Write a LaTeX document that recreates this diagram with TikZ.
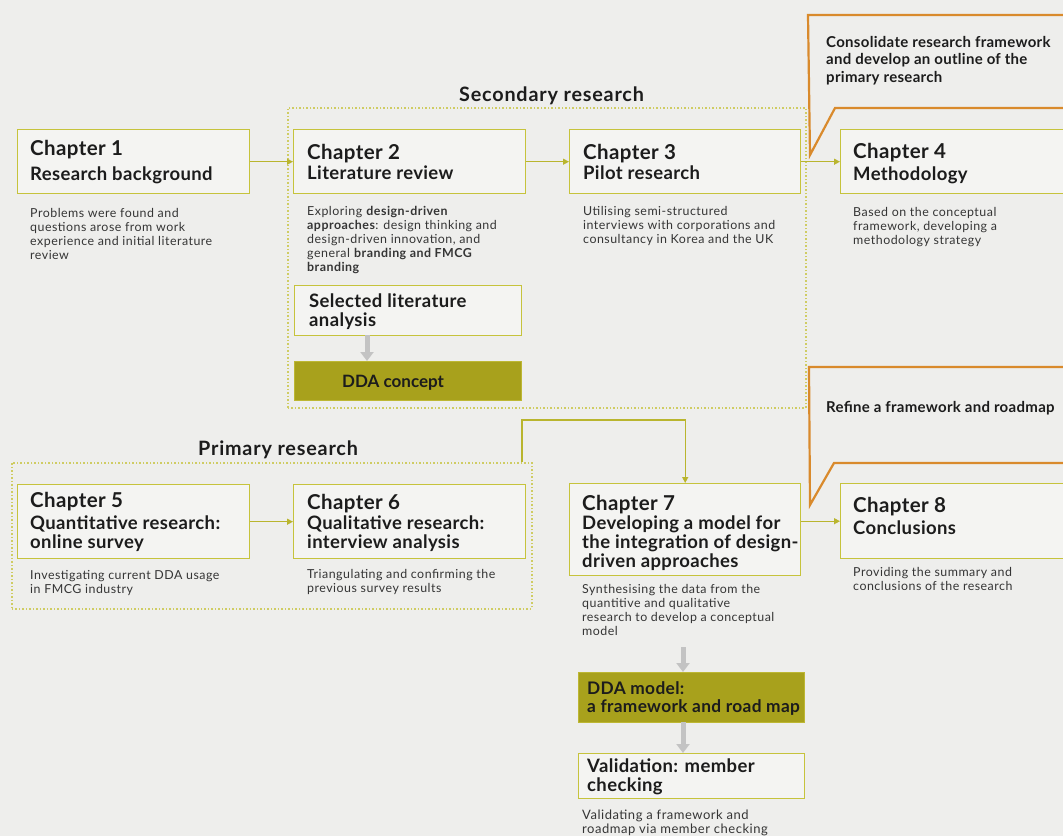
\documentclass[tikz,border=0pt]{standalone}
\usepackage{fontspec}
\setmainfont{Lato}
\newfontfamily\dgDescFam[LetterSpace=4]{Lato}
\newfontfamily\dgHeadFam[LetterSpace=2]{Lato}
\newfontfamily\dgWideFam[LetterSpace=4]{Lato}
\usetikzlibrary{arrows.meta,calc}

\definecolor{pagebg}{HTML}{EEEEEC}
\definecolor{boxfill}{HTML}{F4F4F2}
\definecolor{boxline}{HTML}{C6C33C}
\definecolor{connline}{HTML}{B9B52E}
\definecolor{groupline}{HTML}{CFCC63}
\definecolor{callout}{HTML}{D98A2C}
\definecolor{olive}{HTML}{A8A11C}
\definecolor{oliveline}{HTML}{BDB733}
\definecolor{flowgray}{HTML}{C3C3C3}
\definecolor{ink}{HTML}{1C1C1C}
\definecolor{descink}{HTML}{353535}

% type sizes (1pt = one unit of the drawing grid)
\newcommand\dgChap{\dgHeadFam\fontsize{20.5}{22}\selectfont\bfseries}
\newcommand\dgSub{\dgHeadFam\fontsize{18.5}{19}\selectfont\bfseries}
\newcommand\dgDesc{\dgDescFam\fontsize{12.4}{14}\selectfont}
\newcommand\dgDescL{\dgDescFam\fontsize{13}{13.5}\selectfont}
\newcommand\dgCall{\dgHeadFam\fontsize{15}{17.5}\selectfont\bfseries}
\newcommand\dgGroup{\dgWideFam\fontsize{19.8}{20}\selectfont\bfseries}
\newcommand\dgOlive{\fontsize{17}{17.5}\selectfont\bfseries}
\newcommand\dgOliveB{\dgHeadFam\fontsize{17.3}{17.5}\selectfont\bfseries}

\begin{document}
\begin{tikzpicture}[x=1pt,y=-1pt,
  chapbox/.style={draw=boxline, fill=boxfill, line width=1.4pt, inner sep=0pt,
    anchor=north west},
  olivebox/.style={draw=oliveline, fill=olive, line width=1.2pt, inner sep=0pt,
    anchor=north west},
  groupbox/.style={draw=groupline, line width=1.5pt, dash pattern=on 1.5pt off 2pt,
    inner sep=0pt, anchor=north west},
  % text nodes are anchored at the baseline of their last line
  ttl/.style={anchor=base west, inner sep=0pt, align=left, text=ink, font=\dgSub},
  desc/.style={anchor=base west, inner sep=0pt, align=left, text=descink, font=\dgDesc},
  calltxt/.style={anchor=base west, inner sep=0pt, align=left, text=ink, font=\dgCall},
  grouptxt/.style={anchor=base west, inner sep=0pt, text=ink, font=\dgGroup},
  conn/.style={draw=connline, line width=1.3pt,
    -{Triangle[width=6pt,length=6pt]}},
  flow/.style={draw=flowgray, line width=5pt,
    -{Triangle[width=13pt,length=9pt]}},
  callbox/.style={draw=callout, line width=2.2pt, line join=miter},
]
\useasboundingbox (0,0) rectangle (1063,836);
\fill[pagebg] (0,0) rectangle (1063,836);

\begin{scope}
\clip (0,0) rectangle (1063,836);

% research phase groups
\node[groupbox, minimum width=518pt, minimum height=300pt] (sec) at (287,107) {};
\node[groupbox, minimum width=520pt, minimum height=146pt] (prim) at (11,462) {};
\node[grouptxt] (secl) at (459,101) {Secondary research};
\node[grouptxt] (priml) at (198,455) {Primary research};

% callouts
\draw[callbox] (1090,15) -- (808,15) -- (810,155) -- (835,108) -- (1090,108);
\draw[callbox] (1090,367) -- (809,367) -- (810,505) -- (834,463) -- (1090,463);
\node[calltxt] (call1) at (826,82) {Consolidate research framework\\and develop an outline of the\\primary research};
\node[calltxt] (call2) at (826,412) {Refine a framework and roadmap};

% chapter boxes
\node[chapbox, minimum width=232pt, minimum height=64pt] (ch1) at (17,129) {};
\node[chapbox, minimum width=232pt, minimum height=64pt] (ch2) at (293,129) {};
\node[chapbox, minimum width=231pt, minimum height=64pt] (ch3) at (569,129) {};
\node[chapbox, minimum width=260pt, minimum height=64pt] (ch4) at (840,129) {};
\node[chapbox, minimum width=232pt, minimum height=74pt] (ch5) at (17,484) {};
\node[chapbox, minimum width=232pt, minimum height=74pt] (ch6) at (293,484) {};
\node[chapbox, minimum width=231pt, minimum height=92pt] (ch7) at (569,483) {};
\node[chapbox, minimum width=260pt, minimum height=75pt] (ch8) at (840,483) {};
\node[chapbox, minimum width=227pt, minimum height=50pt] (sla) at (294,285) {};
\node[olivebox, minimum width=227pt, minimum height=39pt] (ddac) at (294,361) {};
\node[olivebox, minimum width=226pt, minimum height=50pt] (ddam) at (578,672) {};
\node[chapbox, minimum width=226pt, minimum height=45pt] (val) at (578,753) {};

% box titles
\node[ttl] (t1) at (30,180) {{\dgChap Chapter 1}\\[6pt]Research background};
\node[ttl] (t2) at (307,179) {{\dgChap Chapter 2}\\[1pt]Literature review};
\node[ttl] (t3) at (583,179) {{\dgChap Chapter 3}\\[1pt]Pilot research};
\node[ttl] (t4) at (853,180) {{\dgChap Chapter 4}\\[3pt]Methodology};
\node[ttl] (t5) at (30,548) {{\dgChap Chapter 5}\\[3pt]Quantitative research:\\online survey};
\node[ttl] (t6) at (307,548) {{\dgChap Chapter 6}\\[1pt]Qualitative research:\\interview analysis};
\node[ttl] (t7) at (582,567) {{\dgChap Chapter 7}\\Developing a model for\\the integration of design-\\driven approaches};
\node[ttl] (t8) at (853,534) {{\dgChap Chapter 8}\\[3pt]Conclusions};
\node[ttl] (tsla) at (309,326) {Selected literature\\analysis};
\node[ttl, font=\dgOlive] (tddac) at (342,387) {DDA concept};
\node[ttl, font=\dgOliveB] (tddam) at (587,712) {DDA model:\\a framework and road map};
\node[ttl] (tval) at (587,791) {Validation: member\\checking};

% descriptions
\node[desc] (d1) at (30,259) {Problems were found and\\questions arose from work\\experience and initial literature\\review};
\node[desc] (d2) at (307,271) {Exploring \textbf{design-driven}\\\textbf{approaches}: design thinking and\\design-driven innovation, and\\general \textbf{branding and FMCG}\\\textbf{branding}};
\node[desc] (d3) at (583,243) {Utilising semi-structured\\interviews with corporations and\\consultancy in Korea and the UK};
\node[desc] (d4) at (853,244) {Based on the conceptual\\framework, developing a\\methodology strategy};
\node[desc] (d5) at (30,593) {Investigating current DDA usage\\in FMCG industry};
\node[desc] (d6) at (307,592) {Triangulating and confirming the\\previous survey results};
\node[desc] (d7) at (582,635) {Synthesising the data from the\\quantitive and qualitative\\research to develop a conceptual\\model};
\node[desc] (d8) at (853,590) {Providing the summary and\\conclusions of the research};
\node[desc, font=\dgDescL] (dv) at (582,833) {Validating a framework and\\roadmap via member checking};

% connectors between chapters
\draw[conn] (ch1.east) -- (ch2.west);
\draw[conn] (ch2.east) -- (ch3.west);
\draw[conn] (ch3.east) -- (ch4.west);
\draw[conn] (ch5.east) -- (ch6.west);
\draw[conn] (ch7.east |- ch8.west) -- (ch8.west);
\coordinate (pout) at (522,462);
\coordinate (pbend) at (522,420);
\draw[conn] (pout) -- (pbend) -| (ch7.north);

% flow into the outcome boxes
\coordinate (slaout) at (367,335);
\coordinate (d7out) at (683,647);
\coordinate (ddamout) at (683,722);
\draw[flow] (slaout) -- (slaout |- ddac.north);
\draw[flow] (d7out) -- (d7out |- ddam.north);
\draw[flow] (ddamout) -- (ddamout |- val.north);
\end{scope}
\end{tikzpicture}
\end{document}
